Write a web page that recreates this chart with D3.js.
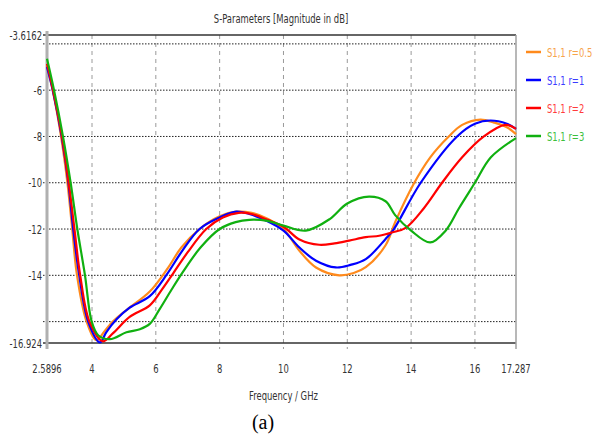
<!DOCTYPE html>
<html>
<head>
<meta charset="utf-8">
<script src="https://cdn.jsdelivr.net/npm/d3@7"></script>
<style>
  body { margin: 0; background: #fff; }
  text { font-family: "DejaVu Sans Condensed", "Liberation Sans Narrow", sans-serif; }
</style>
</head>
<body>
<div id="chart"></div>
<script>
// S11 magnitude vs frequency for four r values
const seriesNames = ['S1,1 r=0.5', 'S1,1 r=1', 'S1,1 r=2', 'S1,1 r=3'];
const seriesColors = ['#ff8a1c', '#0000ff', '#ff0000', '#10b010'];
const legendColors = ['#f7a34a', '#3b3bff', '#ff3b3b', '#3cc03c'];

const freqR05 = [2.5896, 2.77, 3.03, 3.23, 3.38, 3.53, 3.83, 4.14, 4.4, 4.65, 5.08, 5.81, 6.37, 6.8, 7.37, 8.0, 8.52, 9.0, 9.5, 10.0, 10.5, 11.02, 11.75, 12.2, 12.58, 13.2, 13.5, 14.1, 14.6, 15.18, 15.6, 16.17, 16.6, 17.0, 17.287];
const s11R05 = [-4.95, -6, -8, -10, -12, -14, -16, -16.8, -16.4, -16.0, -15.5, -14.7, -13.7, -12.8, -12, -11.45, -11.25, -11.3, -11.55, -12.0, -12.94, -13.66, -14.0, -13.9, -13.65, -12.7, -11.7, -10, -8.9, -8, -7.5, -7.27, -7.4, -7.6, -7.9];

const freqR1 = [2.5896, 2.77, 3.05, 3.26, 3.41, 3.6, 3.88, 4.25, 4.45, 4.77, 5.18, 5.81, 6.35, 6.8, 7.37, 8.0, 8.52, 8.93, 9.46, 10.0, 10.5, 11.02, 11.64, 12.1, 12.58, 13.2, 13.46, 14.3, 15.44, 16.0, 16.49, 17.0, 17.287];
const s11R1 = [-5.0, -6, -8, -10, -12, -14, -16, -16.9, -16.45, -15.9, -15.4, -14.9, -13.95, -13.0, -12, -11.5, -11.25, -11.35, -11.64, -12.07, -12.8, -13.37, -13.66, -13.55, -13.3, -12.43, -12, -10, -8, -7.45, -7.31, -7.45, -7.67];

const freqR2 = [2.5896, 2.78, 3.06, 3.27, 3.45, 3.63, 3.92, 4.34, 4.66, 5.18, 5.81, 6.2, 6.55, 7.0, 7.58, 8.1, 8.6, 9.0, 9.5, 10.0, 10.5, 11.12, 11.6, 12.06, 12.58, 13.0, 13.4, 13.83, 14.4, 14.97, 15.6, 16.28, 16.95, 17.287];
const s11R2 = [-4.86, -6, -8, -10, -12, -14, -16, -16.85, -16.5, -15.8, -15.3, -14.6, -13.9, -13.0, -12, -11.5, -11.3, -11.35, -11.6, -11.9, -12.45, -12.68, -12.62, -12.5, -12.35, -12.29, -12.15, -11.95, -11.1, -10, -8.9, -8, -7.5, -7.67];

const freqR3 = [2.5896, 2.81, 3.09, 3.33, 3.54, 3.78, 3.99, 4.2, 4.56, 5.08, 5.5, 5.81, 6.12, 6.5, 6.85, 7.4, 8.0, 8.5, 8.93, 9.5, 10.0, 10.7, 11.45, 12.0, 12.68, 13.2, 13.5, 14.0, 14.6, 15.08, 15.5, 16.0, 16.5, 17.287];
const s11R3 = [-4.64, -6, -8, -10, -12, -14, -16, -16.6, -16.76, -16.46, -16.33, -16.1, -15.46, -14.6, -13.85, -12.8, -12, -11.7, -11.6, -11.65, -11.85, -12.07, -11.57, -10.9, -10.6, -10.8, -11.4, -12.07, -12.58, -12.07, -11.1, -10.0, -8.9, -8.07];

const xTicks = [4, 6, 8, 10, 12, 14, 16];
const yGrid = [-4, -6, -8, -10, -12, -14, -16];
const yLabels = [-6, -8, -10, -12, -14];
const xMin = 2.5896, xMax = 17.287;
const yMin = -16.924, yMax = -3.6162;

(function() {
  const margin = { top: 35, right: 82, bottom: 91, left: 47 };
  const width = 598 - margin.left - margin.right;
  const height = 434 - margin.top - margin.bottom;
  const squeeze = 0.72; // the original font is a very narrow one

  const svgRoot = d3.select('#chart')
    .append('svg')
    .attr('width', 598)
    .attr('height', 434);

  const svg = svgRoot.append('g')
    .attr('transform', `translate(${margin.left}, ${margin.top})`);

  // narrow text: place at (px, py) and squeeze horizontally
  function narrowText(parent, px, py, str, anchor, color) {
    return parent.append('text')
      .attr('transform', `translate(${px}, ${py}) scale(${squeeze}, 1)`)
      .attr('text-anchor', anchor)
      .attr('dy', '0.35em')
      .style('font-size', '13px')
      .style('fill', color || '#333')
      .text(str);
  }

  const x = d3.scaleLinear().domain([xMin, xMax]).range([0, width]);
  const y = d3.scaleLinear().domain([yMin, yMax]).range([height, 0]);

  // vertical dashed grid (extends a bit below the axis like tick marks)
  svg.selectAll('.vgrid')
    .data(xTicks)
    .enter()
    .append('line')
    .attr('x1', d => x(d)).attr('x2', d => x(d))
    .attr('y1', 0).attr('y2', height + 6)
    .attr('stroke', '#9a9a9a')
    .attr('stroke-width', 1)
    .attr('stroke-dasharray', '4,4');

  // horizontal dotted grid
  svg.selectAll('.hgrid')
    .data(yGrid)
    .enter()
    .append('line')
    .attr('x1', -4).attr('x2', width)
    .attr('y1', d => y(d)).attr('y2', d => y(d))
    .attr('stroke', '#222')
    .attr('stroke-width', 1)
    .attr('stroke-dasharray', '1.5,1.5');

  // frame
  svg.append('line')
    .attr('x1', -4).attr('x2', width)
    .attr('y1', y(yMax)).attr('y2', y(yMax))
    .attr('stroke', '#333').attr('stroke-width', 1.5);
  svg.append('line')
    .attr('x1', -4).attr('x2', width)
    .attr('y1', y(yMin)).attr('y2', y(yMin))
    .attr('stroke', '#333').attr('stroke-width', 1.5);
  svg.append('line')
    .attr('x1', width).attr('x2', width)
    .attr('y1', 0).attr('y2', height + 6)
    .attr('stroke', '#a0a0a0').attr('stroke-width', 1.5);
  svg.append('line')
    .attr('x1', 0).attr('x2', 0)
    .attr('y1', -4).attr('y2', height + 6)
    .attr('stroke', '#b0b0b0').attr('stroke-width', 3);

  // curves
  const datasets = [
    d3.zip(freqR05, s11R05),
    d3.zip(freqR1, s11R1),
    d3.zip(freqR2, s11R2),
    d3.zip(freqR3, s11R3)
  ];
  const line = d3.line()
    .x(d => x(d[0]))
    .y(d => y(d[1]))
    .curve(d3.curveCatmullRom.alpha(0.5));

  svg.selectAll('.curve')
    .data(datasets)
    .enter()
    .append('path')
    .attr('class', 'curve')
    .attr('d', line)
    .attr('fill', 'none')
    .attr('stroke', (d, i) => seriesColors[i])
    .attr('stroke-width', 2.2)
    .attr('stroke-linejoin', 'round');

  // y labels
  [yMax].concat(yLabels).concat([yMin]).forEach(v => {
    narrowText(svg, -5, y(v), v, 'end');
  });

  // x labels
  [xMin].concat(xTicks).concat([xMax]).forEach(v => {
    narrowText(svg, x(v), height + 25, v, 'middle');
  });

  // axis title and chart title
  narrowText(svg, x(10), height + 52, 'Frequency / GHz', 'middle');
  narrowText(svgRoot, 281, 18, 'S-Parameters [Magnitude in dB]', 'middle');

  svgRoot.append('text')
    .attr('x', 263)
    .attr('y', 429)
    .attr('text-anchor', 'middle')
    .style('font-family', '"Liberation Serif", "DejaVu Serif", serif')
    .style('font-size', '20px')
    .style('fill', '#000')
    .text('(a)');

  // legend
  const legend = svgRoot.append('g')
    .attr('transform', 'translate(526, 52)');
  seriesNames.forEach((name, i) => {
    legend.append('line')
      .attr('x1', 0).attr('x2', 15)
      .attr('y1', i * 28).attr('y2', i * 28)
      .attr('stroke', seriesColors[i])
      .attr('stroke-width', 2.5);
    narrowText(legend, 21, i * 28, name, 'start', legendColors[i]);
  });
})();
</script>
</body>
</html>
